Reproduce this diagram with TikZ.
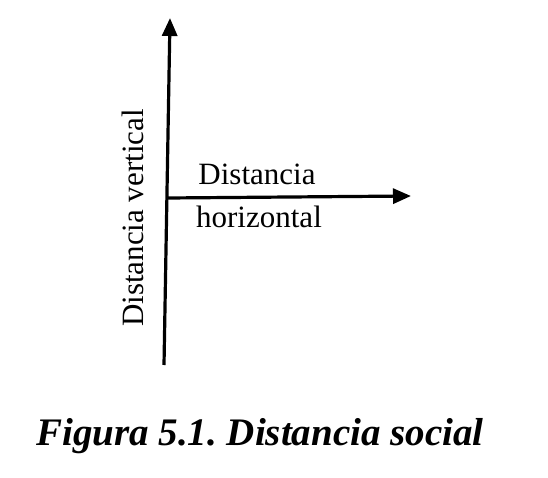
\documentclass[tikz,border=0pt]{standalone}
\usepackage{fontspec}
\setmainfont{Liberation Serif}
\usetikzlibrary{arrows.meta}
\frenchspacing

\begin{document}
\begin{tikzpicture}[x=1pt,y=-1pt,
  axis/.style={line width=3.2pt,-{Triangle[length=18pt,width=15pt]}},
  lbl/.style={font=\fontsize{31}{37}\selectfont, inner sep=0pt}]
\useasboundingbox (0,0) rectangle (548,478);
% axes
\coordinate (o) at (168,198);
\coordinate (bottom) at (164,365);
\coordinate (top) at (170,18);
\coordinate (right) at (411,196);
\draw[axis] (bottom) -- (top);
\draw[axis] (o) -- (right);
% labels
\node[lbl, anchor=base] (dist) at (257,185) {Distancia};
\node[lbl, anchor=base] (horiz) at (259,228) {horizontal};
\node[lbl, rotate=90, anchor=base] (vert) at (143,218) {Distancia vertical};
% caption
\node[font=\bfseries\itshape\fontsize{39}{45}\selectfont, inner sep=0pt, anchor=base] (fig) at (260,445) {Figura 5.1. Distancia social};
\end{tikzpicture}
\end{document}
